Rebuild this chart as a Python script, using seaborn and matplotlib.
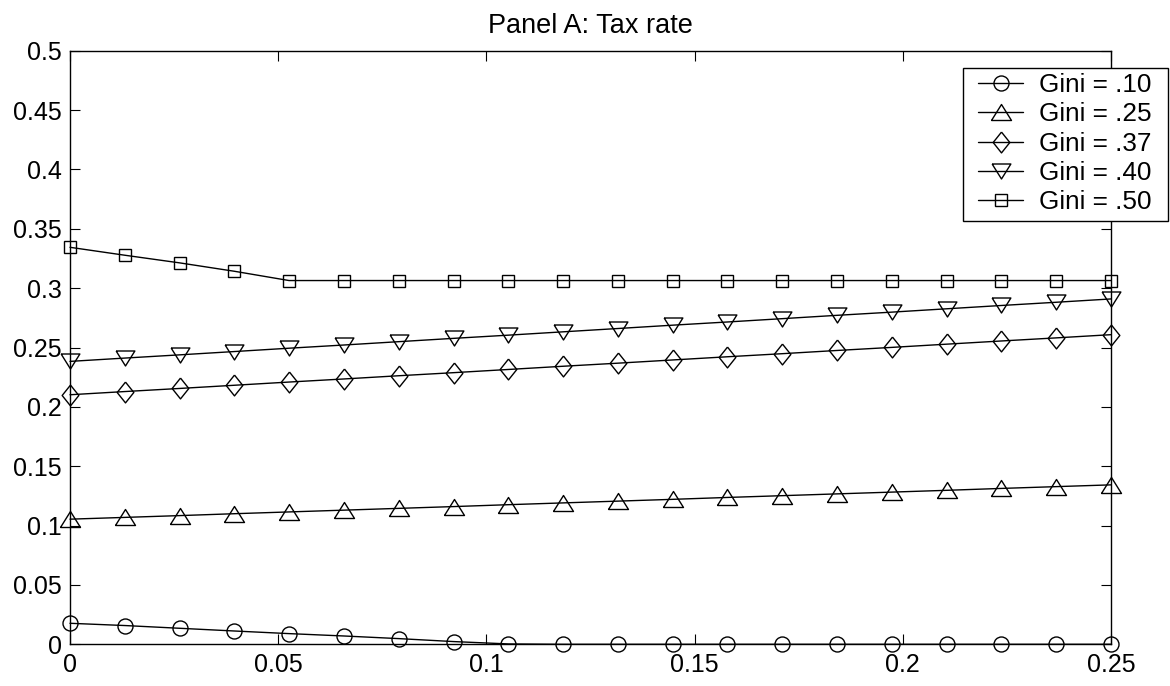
import numpy as np
import pandas as pd
import seaborn as sns
import matplotlib
matplotlib.use("Agg")
import matplotlib.pyplot as plt
from matplotlib.patches import Rectangle
from matplotlib.ticker import FuncFormatter

# data
x_vals = [0, 0.0132, 0.0263, 0.0395, 0.0526, 0.0658, 0.0789, 0.0921, 0.1053, 0.1184,
          0.1316, 0.1447, 0.1579, 0.1711, 0.1842, 0.1974, 0.2105, 0.2237, 0.2368, 0.25]

gini_10 = [0.0177, 0.0158, 0.0135, 0.0112, 0.0090, 0.0070, 0.0048, 0.0023, 0.0003, 0,
           0, 0, 0, 0, 0, 0, 0, 0, 0, 0]
gini_25 = [0.1054, 0.1069, 0.1084, 0.1100, 0.1115, 0.1130, 0.1145, 0.1160, 0.1176, 0.1191,
           0.1206, 0.1221, 0.1237, 0.1252, 0.1267, 0.1282, 0.1297, 0.1313, 0.1328, 0.1343]
gini_37 = [0.2102, 0.2129, 0.2155, 0.2182, 0.2209, 0.2235, 0.2262, 0.2288, 0.2315, 0.2342,
           0.2368, 0.2395, 0.2422, 0.2448, 0.2475, 0.2501, 0.2528, 0.2555, 0.2581, 0.2608]
gini_40 = [0.2383, 0.2411, 0.2438, 0.2466, 0.2494, 0.2521, 0.2549, 0.2577, 0.2604, 0.2632,
           0.2660, 0.2688, 0.2715, 0.2743, 0.2771, 0.2798, 0.2826, 0.2854, 0.2881, 0.2909]
gini_50 = [0.3344, 0.3277, 0.3213, 0.3142, 0.3064, 0.3064, 0.3064, 0.3064, 0.3064, 0.3064,
           0.3064, 0.3064, 0.3064, 0.3064, 0.3064, 0.3064, 0.3064, 0.3064, 0.3064, 0.3064]

labels = ["Gini = .10", "Gini = .25", "Gini = .37", "Gini = .40", "Gini = .50"]
x_ticks = [0, 0.05, 0.1, 0.15, 0.2, 0.25]
y_ticks = [0, 0.05, 0.1, 0.15, 0.2, 0.25, 0.3, 0.35, 0.4, 0.45, 0.5]

sns.set_style("ticks")
plt.rcParams['font.family'] = ['Liberation Sans', 'DejaVu Sans']
plt.rcParams['text.color'] = 'black'
plt.rcParams['axes.labelcolor'] = 'black'

# matlab style markers
tri_up = [(-1, -0.8), (1, -0.8), (0, 0.8), (-1, -0.8)]
tri_down = [(-1, 0.8), (1, 0.8), (0, -0.8), (-1, 0.8)]
diamond = [(0, 1), (0.8, 0), (0, -1), (-0.8, 0), (0, 1)]
styles = [("o", 10.8), (tri_up, 14.4), (diamond, 15), (tri_down, 13.5), ("s", 9)]

W, H = 1170, 686
fig = plt.figure(figsize=(W/100, H/100), dpi=100)
ax = fig.add_axes([70/W, 1-644.3/H, (1111-70)/W, (644.3-50.7)/H])

series = [gini_10, gini_25, gini_37, gini_40, gini_50]
for ys, lab, (mk, ms) in zip(series, labels, styles):
    sns.lineplot(x=x_vals, y=ys, ax=ax, color="black", linewidth=1.0,
                 marker=mk, markersize=ms, markerfacecolor="none",
                 markeredgecolor="black", markeredgewidth=1.0, label=lab)
for ln in ax.lines:
    ln.set_clip_on(False)
    ln.set_zorder(3)

ax.set_xlim(0, 0.25)
ax.set_ylim(0, 0.5)
ax.set_xticks(x_ticks)
ax.set_yticks(y_ticks)
fmt = FuncFormatter(lambda v, p: ("%g" % round(v, 3)))
ax.xaxis.set_major_formatter(fmt)
ax.yaxis.set_major_formatter(fmt)
ax.tick_params(direction="in", length=7.5, width=0.8, top=True, right=True,
               labelsize=18, pad=6, colors="black")
for sp in ax.spines.values():
    sp.set_visible(True)
    sp.set_linewidth(1.0)
    sp.set_color("black")

ax.set_title("Panel A: Tax rate", fontsize=19.5, pad=13, color="black")

# legend: box drawn separately so padding can match the matlab one
handles, labs = ax.get_legend_handles_labels()
ax.get_legend().remove()
box = Rectangle((963/W, 1-221/H), (1168-963)/W, (221-68)/H, transform=fig.transFigure,
                facecolor="white", edgecolor="black", linewidth=1.0, zorder=5)
fig.add_artist(box)
leg = fig.legend(handles, labs, loc="upper left", bbox_to_anchor=(978/W, 1-73/H),
                 fontsize=18.8, frameon=False, borderaxespad=0, borderpad=0,
                 labelspacing=0.205, handlelength=1.73, handletextpad=0.6, numpoints=1)
leg.set_zorder(6)

fig.savefig("out.png", dpi=100)
